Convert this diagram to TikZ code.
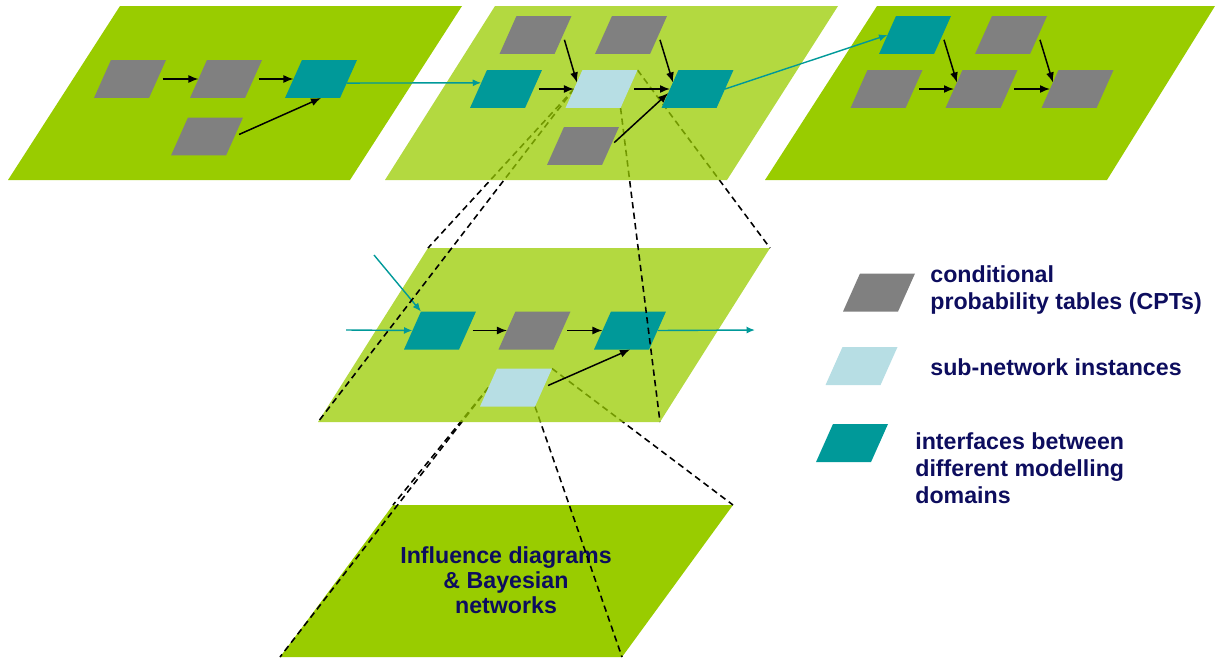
\documentclass[tikz,border=0pt]{standalone}
\usepackage{fontspec}
\setmainfont{Liberation Sans}
\usetikzlibrary{shapes.geometric,arrows.meta}

\definecolor{plane}{RGB}{153,204,0}
\definecolor{cptgray}{RGB}{128,128,128}
\definecolor{subblue}{RGB}{183,222,228}
\definecolor{ifteal}{RGB}{0,153,153}
\definecolor{navy}{RGB}{13,13,94}

\pgfdeclarelayer{base}
\pgfdeclarelayer{lowdash}
\pgfdeclarelayer{midplane}
\pgfdeclarelayer{midnet}
\pgfdeclarelayer{topdash}
\pgfdeclarelayer{topplane}
\pgfsetlayers{base,lowdash,midplane,midnet,topdash,topplane,main}

\tikzset{
    box/.style={trapezium, trapezium left angle=66, trapezium right angle=114,
        trapezium stretches=true, minimum width=1.44cm, minimum height=0.76cm,
        inner sep=1pt, outer sep=0pt},
    cpt/.style={box, fill=cptgray},
    sub/.style={box, fill=subblue},
    iface/.style={box, fill=ifteal},
    dep/.style={-{Latex[length=2mm,width=1.6mm]}, line width=0.85pt, shorten <=1mm},
    link/.style={ifteal, -{Latex[length=1.7mm,width=1.4mm]}, line width=0.8pt},
    proj/.style={dash pattern=on 3.6pt off 2.4pt, line width=0.9pt},
    legendtext/.style={font=\bfseries\fontsize{13.2}{15.4}\selectfont, text=navy,
        align=left, inner sep=0pt}
}

\begin{document}
\begin{tikzpicture}[x=0.02cm, y=-0.02cm]
        \useasboundingbox (0,0) rectangle (1216,659);
        % Plane corners.
        \coordinate (M1) at (428,248);
        \coordinate (M2) at (770,248);
        \coordinate (M3) at (660,422);
        \coordinate (M4) at (318,422);
        \coordinate (B1) at (393,505);
        \coordinate (B2) at (733,505);
        \coordinate (B3) at (622,657);
        \coordinate (B4) at (280,657);

        % Planes.
        \begin{pgfonlayer}{base}
            \fill[plane] (120,6) -- (462,6) -- (350,180) -- (8,180) -- cycle;
            \fill[plane] (877,6) -- (1215,6) -- (1107,180) -- (765,180) -- cycle;
            \fill[plane] (B1) -- (B2) -- (B3) -- (B4) -- cycle;
            \node[legendtext, font=\bfseries\fontsize{13.2}{14.2}\selectfont, align=center, anchor=north] (idbn) at (506,546) {Influence diagrams\\\& Bayesian\\networks};
        \end{pgfonlayer}
        \begin{pgfonlayer}{midplane}
            \fill[plane, fill opacity=0.75] (M1) -- (M2) -- (M3) -- (M4) -- cycle;
        \end{pgfonlayer}
        \begin{pgfonlayer}{topplane}
            \fill[plane, fill opacity=0.75] (495,6) -- (838,6) -- (727,180) -- (385,180) -- cycle;
        \end{pgfonlayer}

        % Plane 1.
        \node[cpt] (g11) at (130,79) {};
        \node[cpt] (g12) at (226,79) {};
        \node[iface] (t11) at (321,79) {};
        \node[cpt] (g13) at (207,136.5) {};
        \draw[dep] (g11) -- (g12);
        \draw[dep] (g12) -- (t11);
        \draw[dep] (g13.east) -- (t11.south);

        % Plane 2.
        \node[cpt] (g21) at (535.5,35) {};
        \node[cpt] (g22) at (631,35) {};
        \node[iface] (t21) at (506,89) {};
        \node[sub] (s21) at (601.5,89) {};
        \node[iface] (t22) at (697.5,89) {};
        \node[cpt] (g23) at (583,146) {};
        \draw[dep] (g21.east) -- (s21.165);
        \draw[dep] (t21) -- (s21);
        \draw[dep] (s21) -- (t22);
        \draw[dep] (g22.east) -- (t22.165);
        \draw[dep] (g23.east) -- (t22.188);

        % Plane 3.
        \node[iface] (t31) at (915,35) {};
        \node[cpt] (g31) at (1011,35) {};
        \node[cpt] (g32) at (886.5,89) {};
        \node[cpt] (g33) at (981.5,89) {};
        \node[cpt] (g34) at (1077.5,89) {};
        \draw[dep] (t31.east) -- (g33.165);
        \draw[dep] (g31.east) -- (g34.165);
        \draw[dep] (g32) -- (g33);
        \draw[dep] (g33) -- (g34);

        % Links between the domains.
        \draw[link] (t11.-9) -- (t21.166);
        \draw[link] (t22.east) -- (t31.west);

        % Middle plane.
        \begin{pgfonlayer}{midnet}
            \node[iface] (t41) at (440,330.5) {};
            \node[cpt] (g41) at (534.5,330.5) {};
            \node[iface] (t42) at (630,330.5) {};
            \node[sub] (s41) at (516,387.5) {};
            \draw[dep] (t41) -- (g41);
            \draw[dep] (g41) -- (t42);
            \draw[dep] (s41.east) -- (t42.south);
            \coordinate (in1) at (346,330);
            \coordinate (in2) at (374,255);
            \coordinate (out1) at (755,330);
            \draw[link] (in1) -- (t41.west);
            \draw[link] (in2) -- (t41.top left corner);
            \draw[link] (t42.east) -- (out1);
        \end{pgfonlayer}

        % Zoom lines.
        \begin{pgfonlayer}{topdash}
            \draw[proj] (s21.west) -- (M1);
            \draw[proj] (s21.west) -- (M4);
            \draw[proj] (s21.top right corner) -- (M2);
            \draw[proj] (s21.bottom right corner) -- (M3);
        \end{pgfonlayer}
        \begin{pgfonlayer}{lowdash}
            \draw[proj] (s41.west) -- (B1);
            \draw[proj] (s41.west) -- (B4);
            \draw[proj] (s41.top right corner) -- (B2);
            \draw[proj] (s41.bottom right corner) -- (B3);
        \end{pgfonlayer}

        % Legend.
        \node[cpt] (lg) at (879,292.5) {};
        \node[sub] (ls) at (861.5,366) {};
        \node[iface] (lt) at (852,443) {};
        \node[legendtext, anchor=north west] (lgt) at (930,265) {conditional\\probability tables (CPTs)};
        \node[legendtext, anchor=north west] (lst) at (930,358) {sub-network instances};
        \node[legendtext, anchor=north west] (ltt) at (915,432) {interfaces between\\different modelling\\domains};

    \end{tikzpicture}
\end{document}
